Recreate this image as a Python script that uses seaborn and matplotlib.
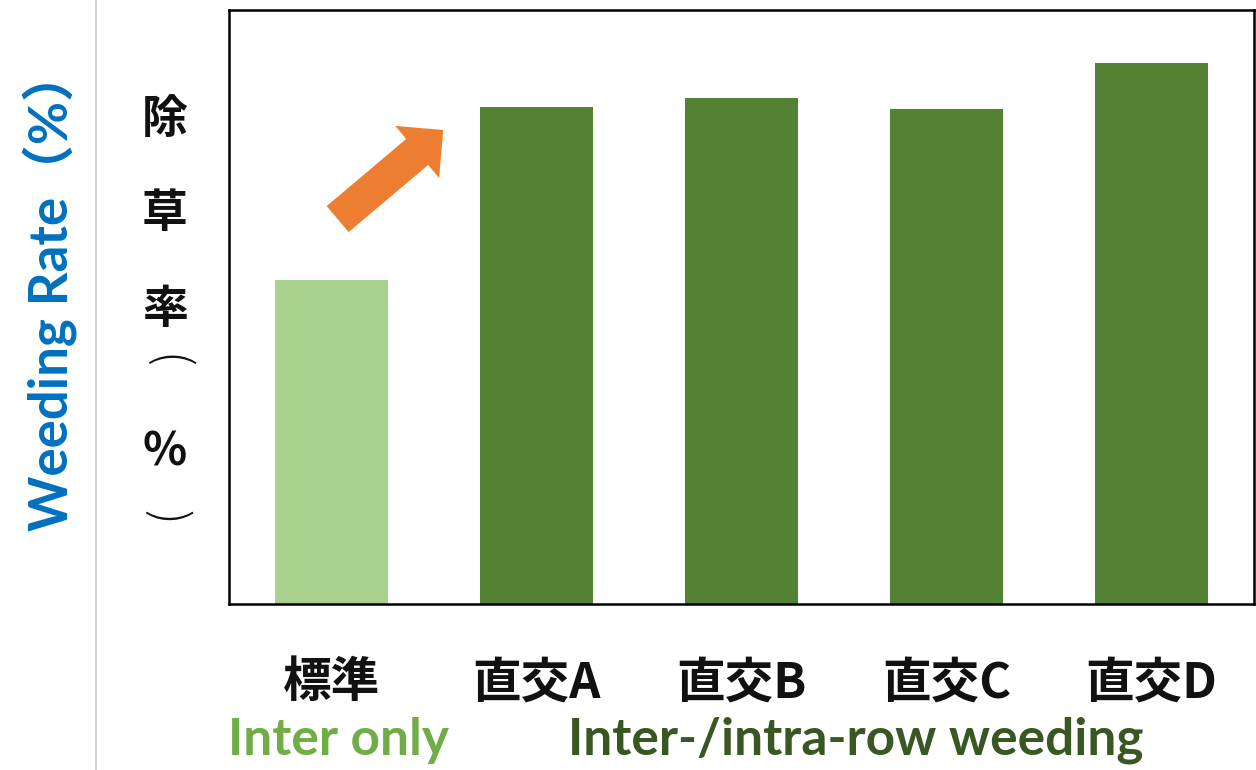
import matplotlib
matplotlib.use("Agg")
import matplotlib.pyplot as plt
from matplotlib.patches import FancyArrowPatch
from matplotlib.lines import Line2D
import seaborn as sns

# Weeding rate by cultivation method
categories = ["標準", "直交A", "直交B", "直交C", "直交D"]
weeding_rate = [54.5, 83.7, 85.2, 83.3, 91.1]
bar_colors = ["#A9D18E", "#548235", "#548235", "#548235", "#548235"]

sns.set_theme(style="white")
plt.rcParams["font.family"] = ["Noto Sans CJK JP", "DejaVu Sans"]

fig = plt.figure(figsize=(12.56, 7.70), dpi=100)
ax = fig.add_axes([229 / 1256, 166 / 770, 1025 / 1256, 594 / 770])

sns.barplot(x=categories, y=weeding_rate, hue=categories, palette=bar_colors,
            width=0.55, legend=False, saturation=1, ax=ax, linewidth=0)

ax.set_xlim(-0.5, len(categories) - 0.5)
ax.set_ylim(0, 100)
ax.set_yticks([])
ax.set_xlabel("")
ax.set_ylabel("")
for s in ax.spines.values():
    s.set_visible(True)
    s.set_color("black")
    s.set_linewidth(1.8)
ax.tick_params(axis="x", length=0, pad=39)
ax.set_xticks(range(len(categories)))
ax.set_xticklabels(categories, fontsize=35, fontweight="bold", color="#111111",
                   family=["Noto Sans CJK JP", "DejaVu Sans"])

# Orange arrow pointing up toward the row-crossing treatments
arrow = FancyArrowPatch((0.03, 64.8), (0.545, 79.8),
                        arrowstyle="simple,head_length=1.0,head_width=2.0,tail_width=1.0",
                        mutation_scale=24.5, color="#ED7D31", lw=0,
                        shrinkA=0, shrinkB=0)
ax.add_patch(arrow)

# Vertical Japanese axis label (brackets turned for vertical writing)
jp_chars = ["除", "草", "率", "%"]
jp_y = [120, 214, 310, 453]
for ch, yy in zip(jp_chars, jp_y):
    fig.text(165 / 1256, 1 - yy / 770, ch, fontsize=33, fontweight="bold",
             ha="center", va="center", color="#111111",
             family=["Noto Sans CJK JP", "DejaVu Sans"])
for ch, yy in zip(["(", ")"], [361, 517]):
    fig.text(166 / 1256, 1 - yy / 770, ch, fontsize=34, fontweight="light",
             rotation=-90, ha="center", va="center", color="#111111",
             family=["Noto Sans CJK JP", "DejaVu Sans"])

# English axis label
fig.text(50 / 1256, 1 - 290 / 770, "Weeding Rate（%）", rotation=90,
         fontsize=38, fontweight="bold", color="#0070C0",
         ha="center", va="center", family=["Lato", "Noto Sans CJK JP"])

# Group captions under the tick labels
fig.text(338 / 1256, 1 - 740 / 770, "Inter only", fontsize=37, fontweight="bold",
         color="#70AD47", ha="center", va="center", family=["Lato", "DejaVu Sans"])
fig.text(856 / 1256, 1 - 740 / 770, "Inter-/intra-row weeding", fontsize=37,
         fontweight="bold", color="#385723", ha="center", va="center",
         family=["Lato", "DejaVu Sans"])

# Thin divider line on the left
fig.add_artist(Line2D([96 / 1256, 96 / 1256], [0, 1], transform=fig.transFigure,
                      color="#C8C8C8", lw=1.2))

fig.savefig("out.png", dpi=100, facecolor="white")
